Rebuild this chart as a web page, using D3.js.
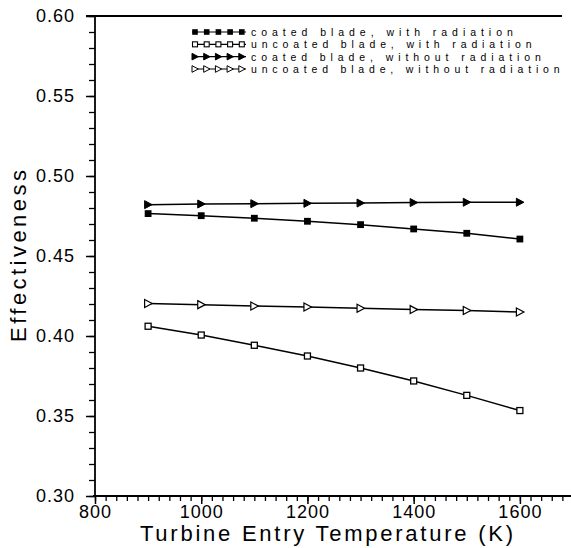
<!DOCTYPE html>
<html><head><meta charset="utf-8">
<script src="https://cdn.jsdelivr.net/npm/d3@7"></script>
<style>
html,body{margin:0;padding:0;background:#fff;}
svg{display:block;}
text{font-family:"Liberation Sans",Arial,sans-serif;fill:#000;}
</style></head>
<body>
<svg id="chart" width="571" height="548"></svg>
<script>
const temps = [900, 1000, 1100, 1200, 1300, 1400, 1500, 1600];
const coatedRad = [0.4765, 0.4752, 0.4736, 0.4717, 0.4696, 0.4669, 0.4642, 0.4606];
const uncoatedRad = [0.4061, 0.4006, 0.3942, 0.3875, 0.3800, 0.3719, 0.3629, 0.3534];
const coatedNoRad = [0.4821, 0.4825, 0.4827, 0.4829, 0.4831, 0.4834, 0.4836, 0.4836];
const uncoatedNoRad = [0.4203, 0.4196, 0.4187, 0.4181, 0.4173, 0.4165, 0.4159, 0.4150];
const seriesNames = ["coated blade, with radiation", "uncoated blade, with radiation",
  "coated blade, without radiation", "uncoated blade, without radiation"];
const seriesMarkers = ["squareFilled", "squareOpen", "triFilled", "triOpen"];
const xTicks = [800, 1000, 1200, 1400, 1600];
const yTicks = [0.30, 0.35, 0.40, 0.45, 0.50, 0.55, 0.60];
const xLabel = "Turbine Entry Temperature (K)";
const yLabel = "Effectiveness";

const series = [coatedRad, uncoatedRad, coatedNoRad, uncoatedNoRad].map((v, i) => ({
  name: seriesNames[i], marker: seriesMarkers[i], values: v.map((y, j) => ({x: temps[j], y}))
}));

const svg = d3.select("#chart");
const L = 95, T = 16, B = 496;
const x = d3.scaleLinear().domain([800, 1700]).range([L, 573]);
const y = d3.scaleLinear().domain([0.30, 0.60]).range([B, T]);

// minor ticks
svg.append("g").attr("transform", `translate(0,${B})`)
  .call(d3.axisBottom(x).tickValues(d3.range(800, 1701, 20)).tickSize(5).tickFormat(""))
  .call(g => g.select(".domain").remove())
  .call(g => g.selectAll("line").attr("stroke-width", 1.3));
svg.append("g").attr("transform", `translate(${L},0)`)
  .call(d3.axisLeft(y).tickValues(d3.range(30, 61, 1).map(d => d / 100)).tickSize(6).tickFormat(""))
  .call(g => g.select(".domain").remove())
  .call(g => g.selectAll("line").attr("stroke-width", 1.3));

// major ticks + labels
svg.append("g").attr("transform", `translate(0,${B})`)
  .call(d3.axisBottom(x).tickValues(xTicks).tickSize(8).tickPadding(1).tickFormat(d3.format("d")))
  .call(g => g.select(".domain").remove())
  .call(g => g.selectAll("line").attr("stroke-width", 1.5))
  .call(g => g.selectAll("text").attr("font-size", 18).attr("letter-spacing", 1).attr("font-family", "Liberation Sans, Arial, sans-serif"));
svg.append("g").attr("transform", `translate(${L},0)`)
  .call(d3.axisLeft(y).tickValues(yTicks).tickSize(9).tickPadding(11).tickFormat(d3.format(".2f")))
  .call(g => g.select(".domain").remove())
  .call(g => g.selectAll("line").attr("stroke-width", 1.5))
  .call(g => g.selectAll("text").attr("font-size", 18).attr("letter-spacing", 1).attr("font-family", "Liberation Sans, Arial, sans-serif"));

// axis frame lines
svg.append("line").attr("x1", L).attr("x2", L).attr("y1", T).attr("y2", B).attr("stroke", "#000").attr("stroke-width", 1.8);
svg.append("line").attr("x1", L - 2).attr("x2", 571).attr("y1", B).attr("y2", B).attr("stroke", "#000").attr("stroke-width", 1.8);
svg.append("line").attr("x1", L - 9).attr("x2", 562).attr("y1", T).attr("y2", T).attr("stroke", "#000").attr("stroke-width", 1.8);

// axis titles
svg.append("text").attr("x", 140).attr("y", 541).attr("font-size", 22)
  .attr("textLength", 373).attr("lengthAdjust", "spacing").text(xLabel);
svg.append("text").attr("transform", "translate(26,342) rotate(-90)").attr("font-size", 22)
  .attr("textLength", 172).attr("lengthAdjust", "spacing").text(yLabel);

function drawMarker(g, type, cx, cy) {
  if (type === "squareFilled") {
    g.append("rect").attr("x", cx - 3.4).attr("y", cy - 3.4).attr("width", 6.8).attr("height", 6.8).attr("fill", "#000");
  } else if (type === "squareOpen") {
    g.append("rect").attr("x", cx - 3).attr("y", cy - 3).attr("width", 6).attr("height", 6).attr("fill", "#fff").attr("stroke", "#000").attr("stroke-width", 1.3);
  } else {
    const filled = type === "triFilled";
    g.append("path").attr("d", `M${cx - 3.5},${cy - 4}L${cx + 4},${cy}L${cx - 3.5},${cy + 4}Z`)
      .attr("fill", filled ? "#000" : "#fff").attr("stroke", "#000").attr("stroke-width", filled ? 1 : 1.2)
      .attr("stroke-linejoin", "miter");
  }
}

const line = d3.line().x(d => x(d.x)).y(d => y(d.y));
series.forEach(s => {
  const g = svg.append("g");
  g.append("path").attr("d", line(s.values)).attr("fill", "none").attr("stroke", "#000").attr("stroke-width", 1.5);
  s.values.forEach(d => drawMarker(g, s.marker, x(d.x), y(d.y)));
});

// legend
const legY = d3.scalePoint().domain(seriesNames).range([32, 69]);
function legMarker(g, type, cx, cy) {
  if (type === "squareFilled") {
    g.append("rect").attr("x", cx - 2.8).attr("y", cy - 2.8).attr("width", 5.6).attr("height", 5.6).attr("fill", "#000");
  } else if (type === "squareOpen") {
    g.append("rect").attr("x", cx - 2.5).attr("y", cy - 2.5).attr("width", 5).attr("height", 5).attr("fill", "#fff").attr("stroke", "#000").attr("stroke-width", 1.1);
  } else {
    const filled = type === "triFilled";
    g.append("path").attr("d", `M${cx - 3},${cy - 3.3}L${cx + 3.3},${cy}L${cx - 3},${cy + 3.3}Z`)
      .attr("fill", filled ? "#000" : "#fff").attr("stroke", "#000").attr("stroke-width", 1);
  }
}
series.forEach(s => {
  const g = svg.append("g");
  const yy = legY(s.name);
  g.append("line").attr("x1", 192).attr("x2", 246).attr("y1", yy).attr("y2", yy).attr("stroke", "#000").attr("stroke-width", 1.2);
  d3.range(5).forEach(k => legMarker(g, s.marker, 195 + k * 11.7, yy));
  g.append("text").attr("x", 251).attr("y", yy + 4).attr("font-size", 10.5)
    .attr("font-family", "DejaVu Sans, sans-serif")
    .attr("textLength", s.name.length * 9.35).attr("lengthAdjust", "spacing").text(s.name);
});
</script>
</body></html>
